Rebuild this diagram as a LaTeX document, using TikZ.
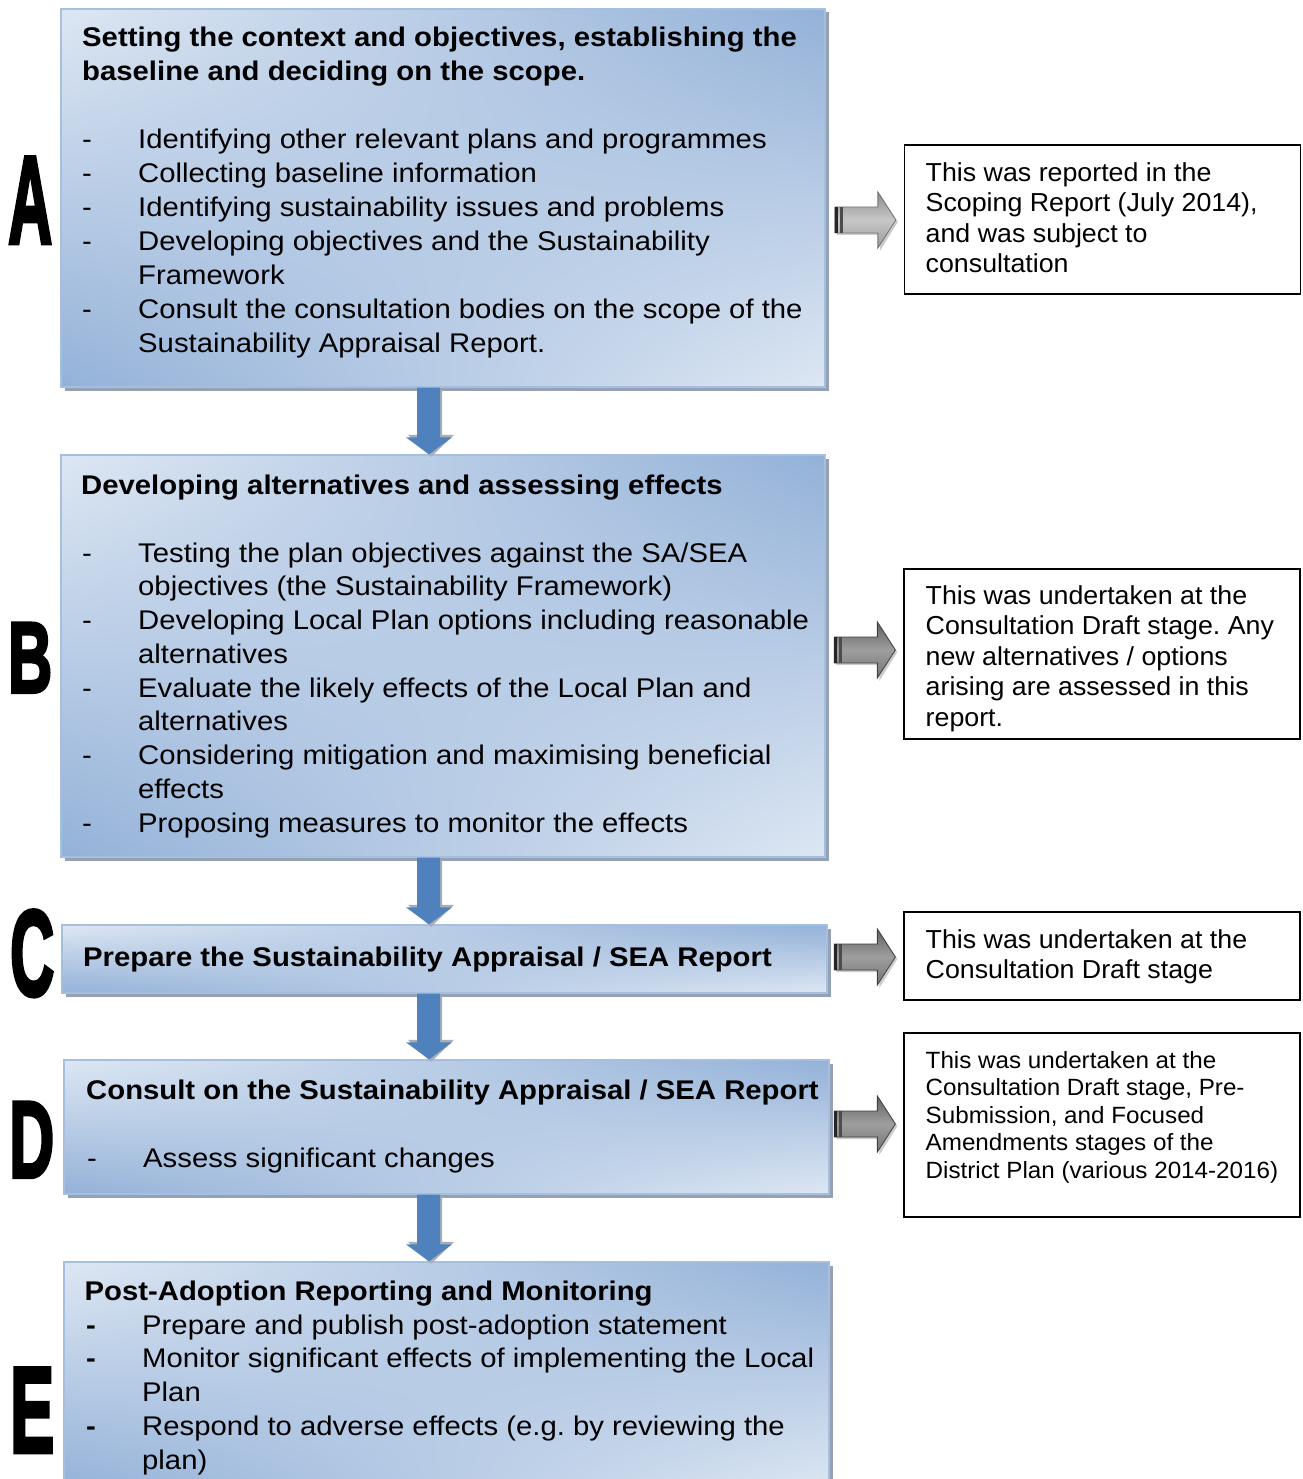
\documentclass[tikz,border=0pt]{standalone}
\usepackage{fontspec}
\setmainfont{Liberation Sans}
\newfontfamily\heavyfont[FakeBold=3.5]{Liberation Sans Bold}
\usetikzlibrary{calc,shadows,shadings}
\frenchspacing
\definecolor{bxl}{HTML}{DDE7F3}
\definecolor{bxd}{HTML}{93B1D8}
\definecolor{bxedge}{HTML}{A7BFDE}
\definecolor{bxsh}{HTML}{95A1B4}
\definecolor{arrblue}{HTML}{4F81BD}
\definecolor{arrsh}{HTML}{A9AEB6}
\newcommand\rws[1]{\vtop{\halign{##\hfil\cr#1\crcr}}}
\newcommand\lt[1]{\scalebox{1.085}[1]{\rws{#1}}}
\newcommand\rt[1]{\scalebox{1.03}[1]{\rws{#1}}}
\newcommand\dsh{\hbox to 51.6pt{-\hfil}}
\newcommand\bdsh{\hbox to 51.6pt{\bfseries-\hfil}}
\newcommand\ind{\hbox to 51.6pt{}}
\newcommand\downarr[2]{%
  \path let \p1=(#1.south), \p2=(#2.north) in
    [fill=arrsh] (419pt,\y1-2pt) -- (442pt,\y1-2pt) -- (442pt,\y2+19.5pt) -- (454pt,\y2+19.5pt) -- (431pt,\y2-2.5pt) -- (408pt,\y2+19.5pt) -- (419pt,\y2+19.5pt) -- cycle;
  \path let \p1=(#1.south), \p2=(#2.north) in
    [fill=arrblue] (417pt,\y1) -- (440pt,\y1) -- (440pt,\y2+17pt) -- (452pt,\y2+17pt) -- (429pt,\y2) -- (406pt,\y2+17pt) -- (417pt,\y2+17pt) -- cycle;}
% #1 box, #2 note, #3 y centre, #4 arrow body style
\newcommand\rightarr[4]{%
  \path let \p1=(#1.east), \p2=(#2.west) in
    [fill=gray!40] (\x2-67pt,-#3pt-15pt) -- (\x2-24pt,-#3pt-15pt) -- (\x2-24pt,-#3pt-31pt) -- (\x2-6pt,-#3pt-2pt) -- (\x2-24pt,-#3pt+26pt) -- (\x2-24pt,-#3pt+11pt) -- (\x2-67pt,-#3pt+11pt) -- cycle;
  \path let \p1=(#1.east), \p2=(#2.west) in
    [#4] (\x2-69pt,-#3pt+13pt) -- (\x2-26pt,-#3pt+13pt) -- (\x2-26pt,-#3pt+28pt) -- (\x2-8pt,-#3pt) -- (\x2-26pt,-#3pt-28pt) -- (\x2-26pt,-#3pt-13pt) -- (\x2-69pt,-#3pt-13pt) -- cycle;
  \path let \p1=(#1.east), \p2=(#2.west) in
    [fill=black!85] (\x2-69pt,-#3pt+13pt) rectangle (\x2-66pt,-#3pt-13pt);
  \path let \p1=(#1.east), \p2=(#2.west) in
    [fill=black!70] (\x2-64pt,-#3pt+13pt) rectangle (\x2-61pt,-#3pt-13pt);}
\tikzset{
  stage/.style={rectangle, draw=bxedge, line width=1.3pt, inner sep=0pt,
    upper left=bxl, upper right=bxd, lower left=bxd, lower right=bxl,
    drop shadow={shadow xshift=3.5pt, shadow yshift=-3.5pt, fill=bxsh, opacity=1}},
  note/.style={rectangle, draw=black, line width=1.3pt, fill=white, inner sep=0pt},
  ltxt/.style={anchor=base west, inner sep=0pt, font=\fontsize{27}{34}\selectfont},
  lttl/.style={ltxt, font=\fontsize{27}{34}\selectfont\bfseries},
  rtxt/.style={anchor=base west, inner sep=0pt, font=\fontsize{26}{30.5}\selectfont},
  bigl/.style={anchor=north west, inner sep=0pt, font=\heavyfont},
  grayarr/.style={draw=black!75, line width=0.8pt, top color=black!62, bottom color=black!55, middle color=black!38},
  lightarr/.style={draw=black!55, line width=0.8pt, top color=black!45, bottom color=black!40, middle color=black!22}
}
\begin{document}
\begin{tikzpicture}[x=1pt,y=-1pt]
\clip (0,0) rectangle (1302,1479);
\fill[white] (0,0) rectangle (1302,1479);
% stage boxes
\node[stage, minimum width=764, minimum height=378] (bA) at (443,198) {};
\node[stage, minimum width=764, minimum height=402] (bB) at (443,656) {};
\node[stage, minimum width=765, minimum height=68] (bC) at (444.5,959) {};
\node[stage, minimum width=765, minimum height=134] (bD) at (446.5,1127) {};
\node[stage, minimum width=765, minimum height=228] (bE) at (446.5,1376) {};
% note boxes
\node[note, minimum width=396, minimum height=149] (nA) at (1102.5,219.5) {};
\node[note, minimum width=396, minimum height=170] (nB) at (1102,654) {};
\node[note, minimum width=396, minimum height=88] (nC) at (1102,956) {};
\node[note, minimum width=396, minimum height=184] (nD) at (1102,1125) {};
% letters
\node[bigl] (LA) at (8,157) {\resizebox{44pt}{86pt}{A}};
\node[bigl] (LB) at (8,623) {\resizebox{44pt}{69pt}{B}};
\node[bigl] (LC) at (10,910) {\resizebox{44pt}{85pt}{C}};
\node[bigl] (LD) at (9,1102) {\resizebox{45pt}{75pt}{D}};
\node[bigl] (LE) at (10,1368) {\resizebox{44pt}{84pt}{E}};
% stage texts
\node[lttl] (tA) at (82,47) {\lt{Setting the context and objectives, establishing the\cr baseline and deciding on the scope.}};
\node[ltxt] (lA) at (82,148.3) {\lt{\dsh Identifying other relevant plans and programmes\cr
\dsh Collecting baseline information\cr
\dsh Identifying sustainability issues and problems\cr
\dsh Developing objectives and the Sustainability\cr
\ind Framework\cr
\dsh Consult the consultation bodies on the scope of the\cr
\ind Sustainability Appraisal Report.}};
\node[lttl] (tB) at (81,494) {\lt{Developing alternatives and assessing effects}};
\node[ltxt, font=\fontsize{27}{33.75}\selectfont] (lB) at (82,562) {\lt{\dsh Testing the plan objectives against the SA/SEA\cr
\ind objectives (the Sustainability Framework)\cr
\dsh Developing Local Plan options including reasonable\cr
\ind alternatives\cr
\dsh Evaluate the likely effects of the Local Plan and\cr
\ind alternatives\cr
\dsh Considering mitigation and maximising beneficial\cr
\ind effects\cr
\dsh Proposing measures to monitor the effects}};
\node[lttl] (tC) at (83,966) {\lt{Prepare the Sustainability Appraisal / SEA Report}};
\node[lttl] (tD) at (86,1099) {\lt{Consult on the Sustainability Appraisal / SEA Report}};
\node[ltxt] (lD) at (87,1167) {\lt{\dsh Assess significant changes}};
\node[lttl] (tE) at (84.5,1300) {\lt{Post-Adoption Reporting and Monitoring}};
\node[ltxt, font=\fontsize{27}{33.75}\selectfont] (lE) at (86,1334) {\lt{\bdsh Prepare and publish post-adoption statement\cr
\bdsh Monitor significant effects of implementing the Local\cr
\ind Plan\cr
\bdsh Respond to adverse effects (e.g. by reviewing the\cr
\ind plan)}};
% note texts
\node[rtxt] (xA) at (925.5,181.5) {\rt{This was reported in the\cr Scoping Report (July 2014),\cr and was subject to\cr consultation}};
\node[rtxt] (xB) at (925.5,604) {\rt{This was undertaken at the\cr Consultation Draft stage. Any\cr new alternatives / options\cr arising are assessed in this\cr report.}};
\node[rtxt] (xC) at (925.5,948) {\rt{This was undertaken at the\cr Consultation Draft stage}};
\node[rtxt, font=\fontsize{23.5}{27.4}\selectfont] (xD) at (925.5,1068.5) {\rt{This was undertaken at the\cr Consultation Draft stage, Pre-\cr Submission, and Focused\cr Amendments stages of the\cr District Plan (various 2014-2016)}};
% connectors
\downarr{bA}{bB}
\downarr{bB}{bC}
\downarr{bC}{bD}
\downarr{bD}{bE}
\rightarr{bA}{nA}{220}{lightarr}
\rightarr{bB}{nB}{650}{grayarr}
\rightarr{bC}{nC}{957}{grayarr}
\rightarr{bD}{nD}{1124}{grayarr}
\end{tikzpicture}
\end{document}
